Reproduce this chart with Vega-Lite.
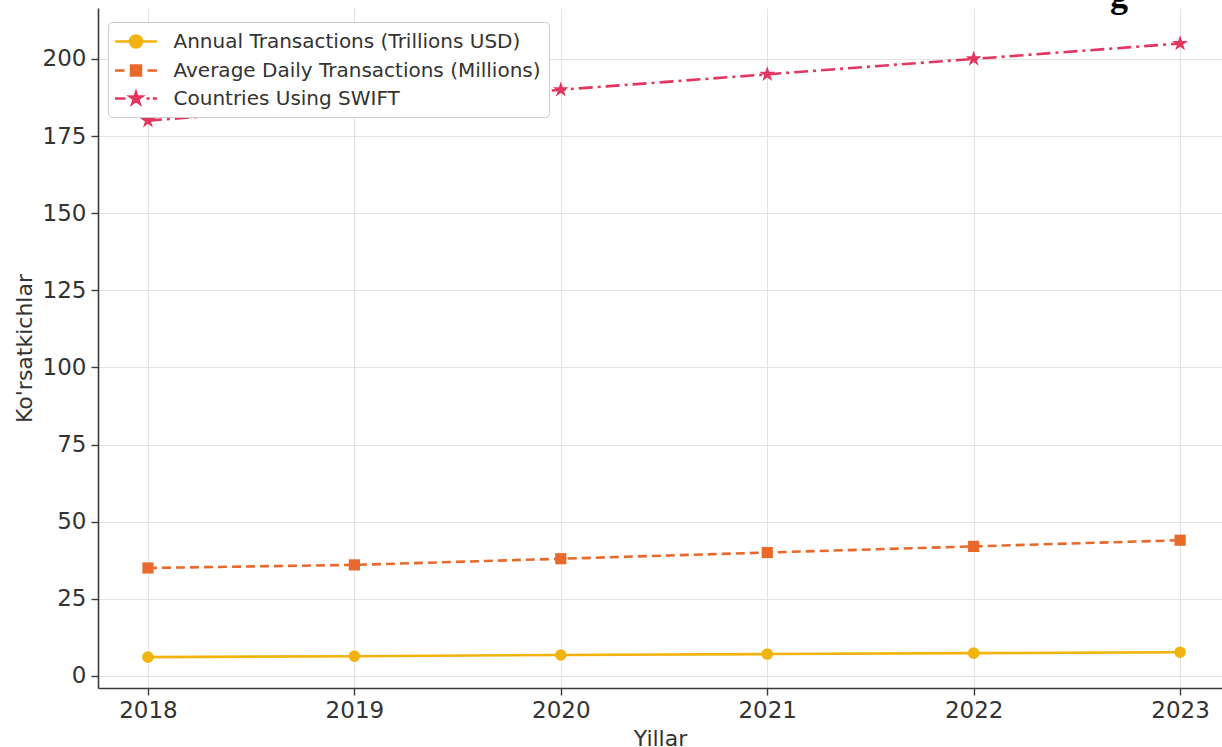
{
  "$schema": "https://vega.github.io/schema/vega-lite/v6.json",
  "width": 1124,
  "height": 680,
  "autosize": "none",
  "padding": {"left": 98, "top": 8, "right": 0, "bottom": 59},
  "background": "white",
  "title": {"text": "g", "font": "Liberation Serif", "fontWeight": "bold", "fontSize": 36, "color": "#000000", "anchor": "end", "frame": "group", "baseline": "alphabetic", "offset": 0, "dy": 35, "dx": -94},
  "config": {
    "view": {"stroke": null},
    "font": "DejaVu Sans",
    "axis": {
      "labelFont": "DejaVu Sans", "labelFontSize": 23, "labelColor": "#333333",
      "titleFont": "DejaVu Sans", "titleFontSize": 22, "titleFontWeight": "normal", "titleColor": "#333333",
      "domainColor": "#3a3a3a", "domainWidth": 1.6, "tickColor": "#3a3a3a", "tickWidth": 1.4, "tickSize": 7,
      "gridColor": "#e3e3e3", "gridWidth": 1
    }
  },
  "data": {"values": [
    {"year": 2018, "series": "Annual Transactions (Trillions USD)", "value": 6.1},
    {"year": 2019, "series": "Annual Transactions (Trillions USD)", "value": 6.4},
    {"year": 2020, "series": "Annual Transactions (Trillions USD)", "value": 6.8},
    {"year": 2021, "series": "Annual Transactions (Trillions USD)", "value": 7.1},
    {"year": 2022, "series": "Annual Transactions (Trillions USD)", "value": 7.4},
    {"year": 2023, "series": "Annual Transactions (Trillions USD)", "value": 7.7},
    {"year": 2018, "series": "Average Daily Transactions (Millions)", "value": 35},
    {"year": 2019, "series": "Average Daily Transactions (Millions)", "value": 36},
    {"year": 2020, "series": "Average Daily Transactions (Millions)", "value": 38},
    {"year": 2021, "series": "Average Daily Transactions (Millions)", "value": 40},
    {"year": 2022, "series": "Average Daily Transactions (Millions)", "value": 42},
    {"year": 2023, "series": "Average Daily Transactions (Millions)", "value": 44},
    {"year": 2018, "series": "Countries Using SWIFT", "value": 180},
    {"year": 2019, "series": "Countries Using SWIFT", "value": 185},
    {"year": 2020, "series": "Countries Using SWIFT", "value": 190},
    {"year": 2021, "series": "Countries Using SWIFT", "value": 195},
    {"year": 2022, "series": "Countries Using SWIFT", "value": 200},
    {"year": 2023, "series": "Countries Using SWIFT", "value": 205}
  ]},
  "encoding": {
    "x": {"field": "year", "type": "quantitative",
      "scale": {"domain": [2017.758, 2023.203], "nice": false, "zero": false},
      "axis": {"values": [2018, 2019, 2020, 2021, 2022, 2023], "format": "d", "title": "Yillar", "labelPadding": 4, "titlePadding": 6, "labelFlush": false}},
    "y": {"field": "value", "type": "quantitative",
      "scale": {"domain": [-3.9, 216.5], "nice": false, "zero": false},
      "axis": {"values": [0, 25, 50, 75, 100, 125, 150, 175, 200], "title": "Ko'rsatkichlar", "labelPadding": 5, "titlePadding": 6, "labelFlush": false}},
    "color": {"field": "series", "type": "nominal",
      "scale": {"domain": ["Annual Transactions (Trillions USD)", "Average Daily Transactions (Millions)", "Countries Using SWIFT"], "range": ["#f2b30f", "#e8692b", "#e2365e"]},
      "legend": {
        "orient": "none", "legendX": 10, "legendY": 14, "title": null,
        "padding": 8, "fillColor": "white", "strokeColor": "#cccccc", "cornerRadius": 4,
        "labelFont": "DejaVu Sans", "labelFontSize": 20, "labelColor": "#333333", "labelLimit": 0,
        "labelOffset": 26, "symbolOffset": 8.5, "rowPadding": 6, "symbolSize": 400, "symbolStrokeWidth": 2.5, "symbolOpacity": 1,
        "encode": {"symbols": {"update": {
          "shape": {"signal": "datum.value === 'Annual Transactions (Trillions USD)' ? 'M-2.1,0L2.1,0M0.6,0A0.6,0.6,0,1,1,-0.6,0A0.6,0.6,0,1,1,0.6,0Z' : datum.value === 'Average Daily Transactions (Millions)' ? 'M-2.1,0L-1.15,0M1.15,0L2.1,0M-0.5,-0.5L0.5,-0.5L0.5,0.5L-0.5,0.5Z' : 'M-2.1,0L-1.05,0M1.05,0L1.37,0M1.68,0L2.1,0M0,-0.62L0.14,-0.19L0.59,-0.19L0.225,0.074L0.364,0.5L0,0.237L-0.364,0.5L-0.225,0.074L-0.59,-0.19L-0.14,-0.19Z'"},
          "size": {"value": 400},
          "fill": {"signal": "scale('color', datum.value)"},
          "stroke": {"signal": "scale('color', datum.value)"},
          "strokeWidth": {"value": 2.5},
          "strokeDash": {"value": []},
          "opacity": {"value": 1}
        }}}
      }}
  },
  "layer": [
    {
      "transform": [{"filter": "datum.series === 'Annual Transactions (Trillions USD)'"}],
      "mark": {"type": "line", "strokeWidth": 2.6}
    },
    {
      "transform": [{"filter": "datum.series === 'Average Daily Transactions (Millions)'"}],
      "mark": {"type": "line", "strokeWidth": 2.6, "strokeDash": [9, 5]}
    },
    {
      "transform": [{"filter": "datum.series === 'Countries Using SWIFT'"}],
      "mark": {"type": "line", "strokeWidth": 2.6, "strokeDash": [14, 5, 3, 5]}
    },
    {
      "transform": [{"filter": "datum.series === 'Annual Transactions (Trillions USD)'"}],
      "mark": {"type": "point", "filled": true, "opacity": 1, "shape": "circle", "size": 135}
    },
    {
      "transform": [{"filter": "datum.series === 'Average Daily Transactions (Millions)'"}],
      "mark": {"type": "point", "filled": true, "opacity": 1, "shape": "square", "size": 125}
    },
    {
      "transform": [{"filter": "datum.series === 'Countries Using SWIFT'"}],
      "mark": {"type": "point", "filled": true, "opacity": 1, "size": 280, "shape": "M0,-1L0.225,-0.309L0.951,-0.309L0.363,0.118L0.588,0.809L0,0.382L-0.588,0.809L-0.363,0.118L-0.951,-0.309L-0.225,-0.309Z"}
    }
  ]
}
